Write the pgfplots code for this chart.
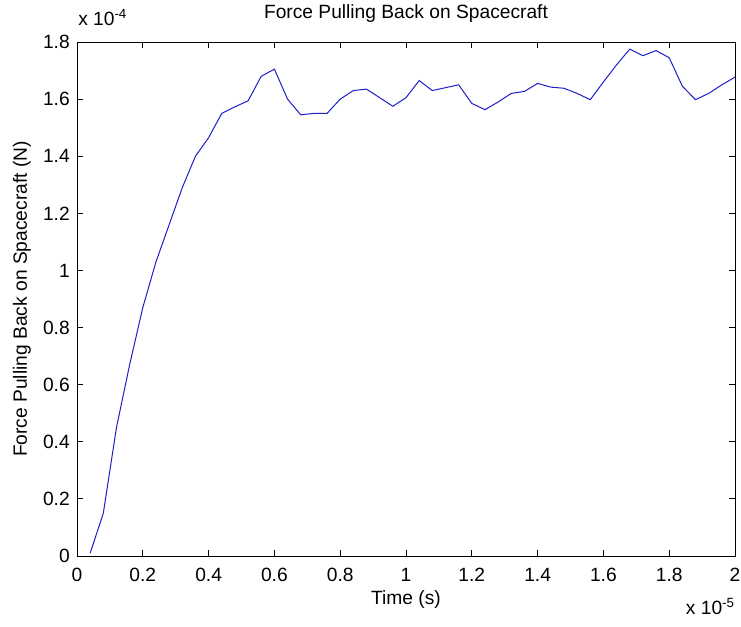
\documentclass[border=0pt]{standalone}
\usepackage{fontspec}
\setmainfont{Liberation Sans}
\usepackage{pgfplots}
\pgfplotsset{compat=1.18}
\definecolor{lineblue}{RGB}{30,30,200}
\newcommand{\plotfont}{\fontsize{14.4}{17}\selectfont}

% Force on the spacecraft; time in units of 1e-5 s, force in units of 1e-4 N
\pgfplotstableread{
t     F
0.04  0.01
0.08  0.15
0.12  0.45
0.16  0.67
0.20  0.87
0.24  1.03
0.28  1.16
0.32  1.29
0.36  1.40
0.40  1.465
0.44  1.55
0.48  1.573
0.52  1.594
0.56  1.68
0.60  1.705
0.64  1.60
0.68  1.545
0.72  1.55
0.76  1.55
0.80  1.60
0.84  1.63
0.88  1.635
0.92  1.605
0.96  1.575
1.00  1.605
1.04  1.665
1.08  1.63
1.12  1.64
1.16  1.65
1.20  1.585
1.24  1.563
1.28  1.59
1.32  1.62
1.36  1.627
1.40  1.655
1.44  1.642
1.48  1.638
1.52  1.62
1.56  1.598
1.60  1.66
1.64  1.72
1.68  1.775
1.72  1.752
1.76  1.77
1.80  1.745
1.84  1.645
1.88  1.598
1.92  1.62
1.96  1.65
2.00  1.677
}\forcedata

\begin{document}
\begin{tikzpicture}[font=\plotfont]
% page frame: the axis box sits with its lower left corner at the origin
\path[use as bounding box] (-57.75pt,-52.5pt) rectangle (498pt,417pt);
\begin{axis}[
  anchor=south west,
  scale only axis, width=493.5pt, height=385.5pt,
  xmin=0, xmax=2, ymin=0, ymax=1.8,
  xtick={0,0.2,...,2.01}, ytick={0,0.2,...,1.81},
  tick align=inside, major tick length=4.5pt,
  xtick pos=both, ytick pos=both,
  axis line style={line width=0.75pt},
  every tick/.style={black, line width=0.75pt},
  /pgf/number format/assume math mode=true,
  /pgf/number format/fixed,
  ticklabel style={font=\plotfont},
  xticklabel style={anchor=base, inner sep=0pt, yshift=-18.75pt},
  yticklabel style={anchor=east, inner sep=0pt, xshift=-5.25pt},
  title={Force Pulling Back on Spacecraft},
  title style={at={(axis description cs:0.5,1.039)}, anchor=center, font=\plotfont},
  xlabel={Time (s)},
  xlabel style={at={(axis description cs:0.5,-0.0856)}, anchor=center, font=\plotfont},
  ylabel={Force Pulling Back on Spacecraft (N)},
  ylabel style={at={(axis description cs:-0.0836,0.5)}, anchor=center, font=\plotfont},
  clip=false,
]
\addplot[lineblue, line width=0.75pt] table[x=t, y=F] {\forcedata};
\node[anchor=base west, inner sep=0pt] at (rel axis cs:0,1) [yshift=12.75pt, xshift=0.75pt] {x 10\textsuperscript{-4}};
\node[anchor=base east, inner sep=0pt] at (rel axis cs:1,0) [yshift=-43.5pt] {x 10\textsuperscript{-5}};
\end{axis}
\end{tikzpicture}
\end{document}
